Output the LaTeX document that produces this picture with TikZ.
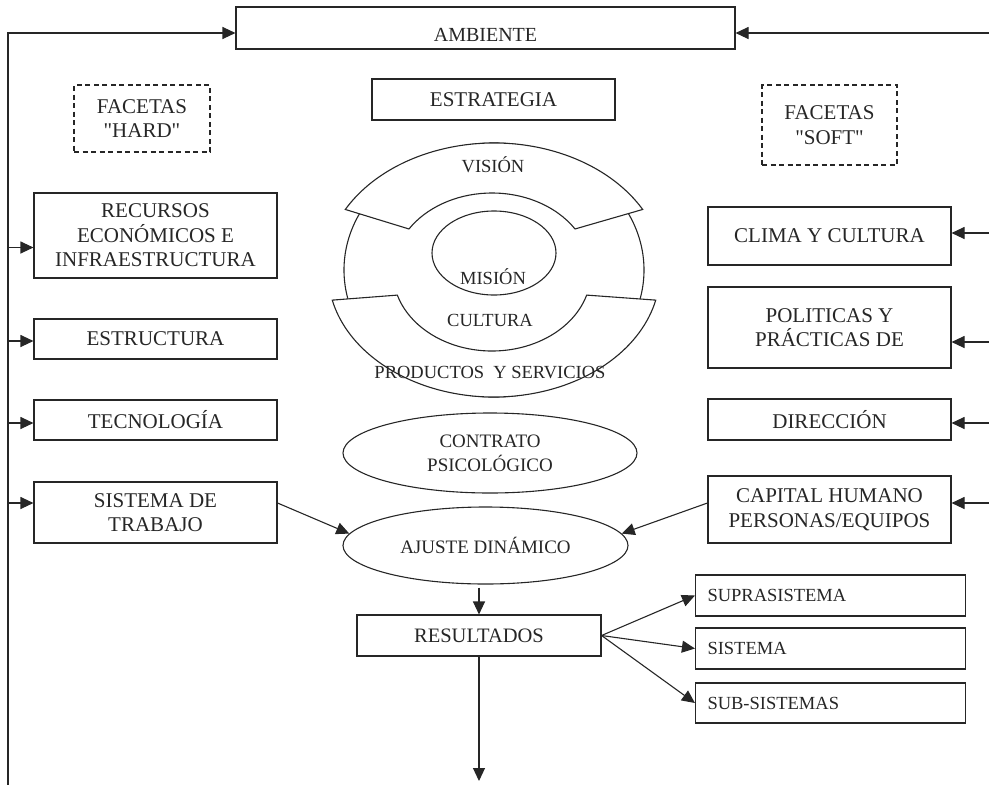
\documentclass[tikz,border=0pt]{standalone}
\usepackage{fontspec}
\setmainfont{Liberation Serif}[Ligatures=TeXOff]
\usetikzlibrary{arrows.meta,shapes.geometric}

\tikzset{
  box/.style={draw, align=center, inner sep=0pt, font=\fontsize{21}{24.5}\selectfont},
  facet/.style={box, dash pattern=on 5pt off 3.5pt},
  oval/.style={draw, ellipse, align=center, inner sep=0pt, font=\fontsize{19}{24}\selectfont},
  outbox/.style={box, align=left, text width=246pt, inner xsep=12pt, font=\fontsize{18.5}{22}\selectfont},
  ringtxt/.style={inner sep=0pt, font=\fontsize{18.5}{22}\selectfont},
  arr/.style={-{Triangle[length=13pt,width=12pt]}}
}

\begin{document}
\begin{tikzpicture}[x=1pt,y=-1pt,line width=1.1pt,color=black!85]

\useasboundingbox (0,0) rectangle (989,785);

\coordinate (pt_left) at (8,785) ;
\coordinate (pt_right) at (989,33) ;
\coordinate (pt_end) at (479,781) ;

\node[box, minimum width=499, minimum height=42, text height=27pt, text depth=0pt,
  font=\fontsize{20}{24}\selectfont] (ambiente) at (485.5,28) {AMBIENTE};

\node[facet, minimum width=136, minimum height=67] (hard) at (142,118.5) {FACETAS\\"HARD"};
\node[facet, minimum width=135, minimum height=80] (soft) at (829.5,125) {FACETAS\\"SOFT"};
\node[box, minimum width=243, minimum height=41] (estrategia) at (493.5,99.5) {ESTRATEGIA};

% facetas hard
\node[box, minimum width=243, minimum height=85] (recursos) at (155.5,235.5) {RECURSOS\\ECONÓMICOS E\\INFRAESTRUCTURA};
\node[box, minimum width=243, minimum height=40] (estructura) at (155.5,339) {ESTRUCTURA};
\node[box, minimum width=243, minimum height=40] (tecnologia) at (155.5,420) {TECNOLOGÍA};
\node[box, minimum width=243, minimum height=61] (trabajo) at (155.5,512.5) {SISTEMA DE\\TRABAJO};

% facetas soft
\node[box, minimum width=243, minimum height=58] (clima) at (829.5,236) {CLIMA Y CULTURA};
\node[box, minimum width=243, minimum height=81] (politicas) at (829.5,327.5) {POLITICAS Y\\PRÁCTICAS DE};
\node[box, minimum width=243, minimum height=41] (direccion) at (829.5,419.5) {DIRECCIÓN};
\node[box, minimum width=243, minimum height=67] (capital) at (829.5,509.5) {CAPITAL HUMANO\\PERSONAS/EQUIPOS};

% anillo
\draw (494,270) ellipse [x radius=150, y radius=127] ;
\draw (494,253) ellipse [x radius=62, y radius=42] ;
\draw[fill=white] (494,272) ++(-151:170 and 129) arc[start angle=-151, end angle=-29, x radius=170, y radius=129]
  -- ([shift={(-33:99 and 79)}]492,272) arc[start angle=-33, end angle=-147, x radius=99, y radius=79] -- cycle ;
\draw[fill=white] (494,272) ++(167:166 and 125) arc[start angle=167, end angle=13, x radius=166, y radius=125]
  -- ([shift={(17:99 and 79)}]492,272) arc[start angle=17, end angle=163, x radius=99, y radius=79] -- cycle ;

\node[ringtxt] (vision) at (493,165) {VISIÓN};
\node[ringtxt] (mision) at (493,277) {MISIÓN};
\node[ringtxt] (cultura) at (490,320) {CULTURA};
\node[ringtxt] (productos) at (490,373) {PRODUCTOS\ \ Y SERVICIOS};

\node[oval, minimum width=294, minimum height=80] (contrato) at (490,453) {CONTRATO\\PSICOLÓGICO};
\node[oval, minimum width=285, minimum height=77] (ajuste) at (485.5,545.5) {AJUSTE DINÁMICO};
\node[box, minimum width=244, minimum height=41, font=\fontsize{20.5}{24}\selectfont] (resultados) at (479,635.5) {RESULTADOS};

\node[outbox, minimum height=41] (supra) at (830.5,595.5) {SUPRASISTEMA};
\node[outbox, minimum height=41] (sistema) at (830.5,648.5) {SISTEMA};
\node[outbox, minimum height=40] (subsist) at (830.5,703) {SUB-SISTEMAS};

\draw[arr] (pt_left) |- ([yshift=-5pt]ambiente.west) ;
\draw[arr] (pt_right) -- ([yshift=-5pt]ambiente.east) ;

\foreach \n/\s in {recursos/-12,estructura/-2,tecnologia/-3,trabajo/9.5}
  \draw[arr] ([yshift=\s pt]\n.west) ++(-26,0) -- ++(26,0) ;
\foreach \n/\s in {clima/3,politicas/-14.5,direccion/-3.5,capital/6.5}
  \draw[arr] ([yshift=\s pt]\n.east) ++(38,0) -- ++(-38,0) ;

\draw[arr] ([yshift=9.5pt]trabajo.east) -- (ajuste.175) ;
\draw[arr] ([yshift=6.5pt]capital.west) -- (ajuste.5) ;
\draw[arr, shorten <=3pt] (resultados.north |- ajuste.south) -- (resultados.north) ;
\draw[arr] (resultados.south) -- (pt_end) ;
\foreach \n in {supra,sistema,subsist}
  \draw[arr] (resultados.east) -- (\n.west) ;

\end{tikzpicture}
\end{document}
